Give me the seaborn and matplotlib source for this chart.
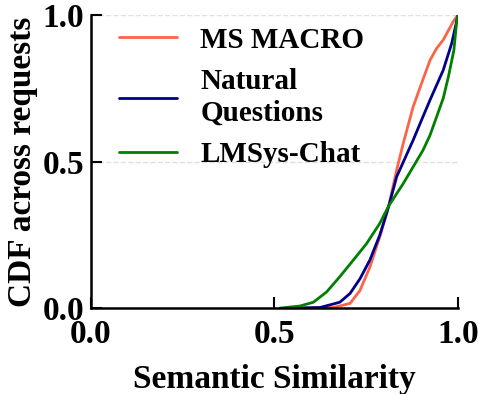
import pandas as pd
import matplotlib
matplotlib.use('Agg')
import matplotlib.pyplot as plt
import seaborn as sns

# valores (CDF da similaridade semantica)
ms_x = [0.55, 0.66, 0.706, 0.733, 0.760, 0.787, 0.806, 0.815, 0.833, 0.851, 0.878, 0.901, 0.924, 0.942, 0.960, 0.987, 1.0]
ms_y = [0.0, 0.002, 0.016, 0.06, 0.14, 0.243, 0.323, 0.369, 0.471, 0.562, 0.687, 0.767, 0.846, 0.886, 0.915, 0.977, 1.0]

nq_x = [0.55, 0.624, 0.678, 0.706, 0.733, 0.760, 0.787, 0.812, 0.833, 0.856, 0.878, 0.901, 0.924, 0.942, 0.960, 0.983, 0.995, 1.0]
nq_y = [0.0, 0.002, 0.02, 0.05, 0.10, 0.164, 0.249, 0.35, 0.448, 0.512, 0.573, 0.642, 0.71, 0.761, 0.812, 0.903, 0.97, 1.0]

lm_x = [0.515, 0.569, 0.606, 0.642, 0.678, 0.715, 0.751, 0.787, 0.812, 0.851, 0.878, 0.905, 0.924, 0.942, 0.960, 0.974, 0.989, 0.996, 1.0]
lm_y = [0.0, 0.007, 0.02, 0.055, 0.107, 0.164, 0.22, 0.289, 0.35, 0.425, 0.482, 0.539, 0.59, 0.653, 0.716, 0.789, 0.88, 0.97, 1.0]

names = ['MS MACRO', 'Natural\nQuestions', 'LMSys-Chat']
colors = ['#ff6347', '#00008b', '#008000']
ticks = [0.0, 0.5, 1.0]

df = pd.concat([
    pd.DataFrame({'x': ms_x, 'y': ms_y, 'dataset': names[0]}),
    pd.DataFrame({'x': nq_x, 'y': nq_y, 'dataset': names[1]}),
    pd.DataFrame({'x': lm_x, 'y': lm_y, 'dataset': names[2]}),
], ignore_index=True)

sns.set_style('ticks')
plt.rcParams['font.family'] = ['Liberation Serif', 'DejaVu Serif']
plt.rcParams['font.weight'] = 'bold'
plt.rcParams['axes.labelweight'] = 'bold'
for k in ['text.color', 'axes.labelcolor', 'xtick.color', 'ytick.color', 'axes.edgecolor']:
    plt.rcParams[k] = 'black'

fig, ax = plt.subplots(figsize=(4.79, 3.94), dpi=100)
fig.subplots_adjust(left=0.19, right=0.956, bottom=0.218, top=0.962)

sns.lineplot(data=df, x='x', y='y', hue='dataset', palette=dict(zip(names, colors)),
             estimator=None, sort=False, linewidth=2, ax=ax)

ax.set_xlim(0, 1)
ax.set_ylim(0, 1)
ax.set_xticks(ticks)
ax.set_yticks(ticks)
ax.set_xticklabels([f'{t:.1f}' for t in ticks])
ax.set_yticklabels([f'{t:.1f}' for t in ticks])
ax.tick_params(direction='in', length=8, width=1.5, labelsize=24, pad=5)
ax.tick_params(axis='x', pad=8)
for s in ['left', 'bottom']:
    ax.spines[s].set_linewidth(1.8)
sns.despine(ax=ax)
ax.yaxis.grid(True, linestyle='--', color='#e0e0e0', linewidth=1)
ax.set_axisbelow(True)

ax.set_xlabel('Semantic Similarity', fontsize=24, labelpad=10)
ax.set_ylabel('CDF across requests', fontsize=24, labelpad=3)

leg = ax.legend(loc='upper left', frameon=False, fontsize=21, handlelength=2.0,
                handletextpad=0.8, labelspacing=0.5, borderaxespad=0.3,
                bbox_to_anchor=(0.02, 1.03))
for line in leg.get_lines():
    line.set_linewidth(2)

plt.savefig('out.png', dpi=100)
plt.close()
